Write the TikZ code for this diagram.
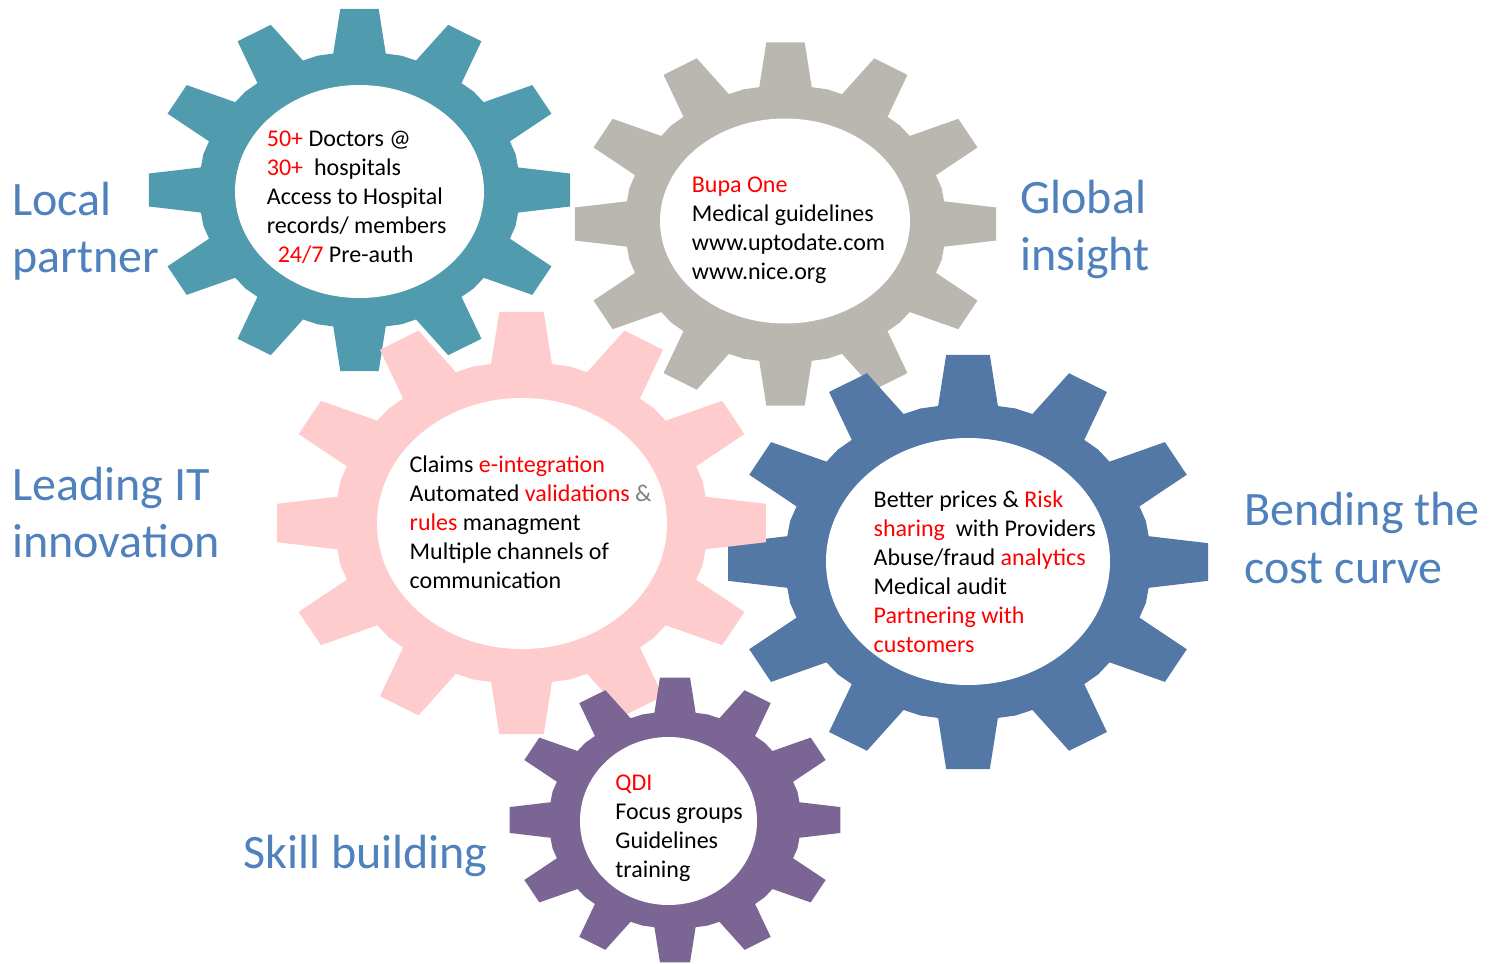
\documentclass[tikz,border=0pt]{standalone}
\usepackage{fontspec}
\setmainfont{Carlito}
\definecolor{gteal}{HTML}{519BAF}
\definecolor{ggray}{HTML}{BAB7B0}
\definecolor{gpink}{HTML}{FFCCCE}
\definecolor{gblue}{HTML}{5478A6}
\definecolor{gpurple}{HTML}{7B6594}
\definecolor{lblblue}{HTML}{4F81BD}
\definecolor{ampgray}{HTML}{808080}
\newcommand\rd[1]{\textcolor{red}{#1}}
% gear: cx, cy, Rx, Ry, colour, hole rx, hole ry, hole cx, hole cy
\newcommand\drawgear[9]{%
  \begin{scope}[shift={(#1,#2)}, xscale=#3, yscale=#4]
    \fill[#5] (-9.4:0.76)
      \foreach \a in {0,30,...,330}{
        -- ({\a-9.4}:0.76) -- ({\a-5.2}:1) -- ({\a+5.2}:1)
        -- ({\a+9.4}:0.76) -- ({\a+15}:0.764)
      } -- cycle;
  \end{scope}
  \fill[white] (#8,#9) ellipse [x radius=#6*0.5pt, y radius=#7*0.5pt];
}
% nodes are anchored at the baseline of their LAST line
\tikzset{
  gtext/.style={anchor=base west, align=left, inner sep=0pt,
    font=\fontsize{12}{14.5}\selectfont},
  lbl/.style={anchor=base west, align=left, inner sep=0pt, text=lblblue,
    font=\fontsize{24}{28.8}\selectfont}
}
\begin{document}
\begin{tikzpicture}[x=0.5pt, y=-0.5pt]
  \fill[white] (0,0) rectangle (1496,964);
  \useasboundingbox (0,0) rectangle (1496,964);

  \drawgear{359.5}{190}{211.5}{182}{gteal}{124.5}{106.5}{359.5}{191.5}
  \drawgear{785.5}{224}{211.5}{182.5}{ggray}{125}{102.5}{785}{221}
  \drawgear{968}{562}{241}{208}{gblue}{142}{123.5}{968}{561.5}
  \drawgear{521.5}{523}{245.5}{212}{gpink}{145}{125.5}{522}{523.5}
  \drawgear{675}{820}{166}{143}{gpurple}{88.5}{84}{668.5}{821}

  \node[gtext] (tealtxt) at (266.5,262)
    {\rd{50+} Doctors @\\ \rd{30+}\ \ hospitals\\ Access to Hospital\\
     records/ members\\ \hphantom{\ \ }\rd{24/7} Pre-auth};
  \node[gtext] (graytxt) at (691.5,279.3)
    {\rd{Bupa One}\\ Medical guidelines\\ www.uptodate.com\\ www.nice.org};
  \node[gtext] (pinktxt) at (409.3,588.7)
    {Claims \rd{e-integration}\\ Automated \rd{validations} \textcolor{ampgray}{\&}\\
     \rd{rules} managment\\ Multiple channels of\\ communication};
  \node[gtext] (bluetxt) at (873.3,652.7)
    {Better prices \& \rd{Risk}\\ \rd{sharing}\ \ with Providers\\
     Abuse/fraud \rd{analytics}\\ Medical audit\\ \rd{Partnering with}\\ \rd{customers}};
  \node[gtext] (purpletxt) at (615,877.7)
    {\rd{QDI}\\ Focus groups\\ Guidelines\\ training};

  \node[lbl] (local) at (12,272.6) {Local\\partner};
  \node[lbl] (global) at (1020,270.9) {Global\\insight};
  \node[lbl] (leading) at (12,557.6) {Leading IT\\innovation};
  \node[lbl] (bending) at (1244,583.3) {Bending the\\cost curve};
  \node[lbl] (skill) at (243,868) {Skill building};
\end{tikzpicture}
\end{document}
